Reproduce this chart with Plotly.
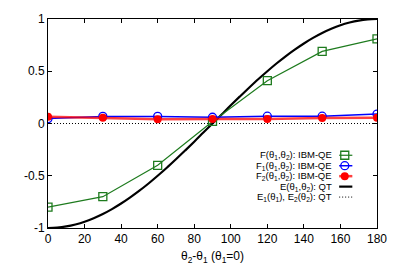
import plotly.graph_objects as go

# ---- data ----
angles = [0, 30, 60, 90, 120, 150, 180]
F_ibm = [-0.80, -0.70, -0.40, 0.02, 0.41, 0.69, 0.81]
F1_ibm = [0.047, 0.068, 0.068, 0.060, 0.070, 0.070, 0.090]
F2_ibm = [0.065, 0.056, 0.040, 0.044, 0.044, 0.053, 0.056]

qt_angles = [0, 5, 10, 15, 20, 25, 30, 35, 40, 45, 50, 55, 60, 65, 70, 75, 80, 85, 90,
             95, 100, 105, 110, 115, 120, 125, 130, 135, 140, 145, 150, 155, 160, 165,
             170, 175, 180]
E_qt = [-1.0, -0.996, -0.985, -0.966, -0.940, -0.906, -0.866, -0.819, -0.766, -0.707,
        -0.643, -0.574, -0.5, -0.423, -0.342, -0.259, -0.174, -0.087, 0.0,
        0.087, 0.174, 0.259, 0.342, 0.423, 0.5, 0.574, 0.643, 0.707, 0.766, 0.819,
        0.866, 0.906, 0.940, 0.966, 0.985, 0.996, 1.0]
E12_angles = [0, 180]
E12_qt = [0.0, 0.0]

legend_labels = [
    "F(θ<sub>1</sub>,θ<sub>2</sub>): IBM-QE",
    "F<sub>1</sub>(θ<sub>1</sub>,θ<sub>2</sub>): IBM-QE",
    "F<sub>2</sub>(θ<sub>1</sub>,θ<sub>2</sub>): IBM-QE",
    "E(θ<sub>1</sub>,θ<sub>2</sub>): QT",
    "E<sub>1</sub>(θ<sub>1</sub>), E<sub>2</sub>(θ<sub>2</sub>): QT",
]
x_ticks = [0, 20, 40, 60, 80, 100, 120, 140, 160, 180]
y_ticks = [-1, -0.5, 0, 0.5, 1]
y_ticktext = ["-1", "-0.5", "0", "0.5", "1"]

GREEN = "#1e7b1e"
BLUE = "#0000ff"
RED = "#ff0000"
DOTS = "1px,2px"

fig = go.Figure()

fig.add_trace(go.Scatter(x=E12_angles, y=E12_qt, mode="lines",
                         line=dict(color="black", width=1, dash=DOTS), showlegend=False))
fig.add_trace(go.Scatter(x=qt_angles, y=E_qt, mode="lines",
                         line=dict(color="black", width=2.2, shape="spline"), showlegend=False))
fig.add_trace(go.Scatter(x=angles, y=F_ibm, mode="lines+markers",
                         line=dict(color=GREEN, width=1.2),
                         marker=dict(symbol="square-open", size=8, color=GREEN, line=dict(width=1.3)),
                         showlegend=False))
fig.add_trace(go.Scatter(x=angles, y=F1_ibm, mode="lines+markers",
                         line=dict(color=BLUE, width=1.5),
                         marker=dict(symbol="circle-open", size=8, color=BLUE, line=dict(width=1.3)),
                         showlegend=False))
fig.add_trace(go.Scatter(x=angles, y=F2_ibm, mode="lines+markers",
                         line=dict(color="rgba(255,0,0,0.75)", width=2.5),
                         marker=dict(symbol="circle", size=8, color=RED),
                         showlegend=False))

# ---- legend (gnuplot style: text right-aligned, sample on right) ----
row_y = [0.348, 0.298, 0.248, 0.198, 0.148]
sx0, sx1, sxc = 0.885, 0.925, 0.902
styles = [
    dict(mode="lines+markers", line=dict(color=GREEN, width=1.2),
         marker=dict(symbol="square-open", size=8, color=GREEN, line=dict(width=1.3))),
    dict(mode="lines+markers", line=dict(color=BLUE, width=1.5),
         marker=dict(symbol="circle-open", size=8, color=BLUE, line=dict(width=1.3))),
    dict(mode="lines+markers", line=dict(color="rgba(255,0,0,0.75)", width=2.5),
         marker=dict(symbol="circle", size=8, color=RED)),
    dict(mode="lines", line=dict(color="black", width=2.2)),
    dict(mode="lines", line=dict(color="black", width=1, dash=DOTS)),
]
for lab, yy, st in zip(legend_labels, row_y, styles):
    fig.add_trace(go.Scatter(x=[sx0, sx1], y=[yy, yy], mode="lines", line=st["line"],
                             xaxis="x2", yaxis="y2", showlegend=False, hoverinfo="skip"))
    if st["mode"] == "lines+markers":
        fig.add_trace(go.Scatter(x=[sxc], y=[yy], mode="markers", marker=st["marker"],
                                 xaxis="x2", yaxis="y2", showlegend=False, hoverinfo="skip"))
    fig.add_annotation(x=0.870, y=yy, xref="x2", yref="y2", text=lab, showarrow=False,
                       xanchor="right", yanchor="middle",
                       font=dict(size=9.5, color="black", family="Liberation Sans, Arial"))

fig.update_layout(
    width=399, height=279,
    margin=dict(l=48, r=22, t=14, b=51),
    paper_bgcolor="white", plot_bgcolor="white",
    font=dict(family="Liberation Sans, Arial", size=12, color="black"),
    showlegend=False,
    xaxis=dict(range=[0, 180], tickvals=x_ticks, ticks="inside", ticklen=4,
               tickcolor="black", linecolor="black", linewidth=1, mirror="ticks",
               showgrid=False, zeroline=False, showline=True,
               title=dict(text="θ<sub>2</sub>-θ<sub>1</sub> (θ<sub>1</sub>=0)",
                          font=dict(size=12), standoff=6)),
    yaxis=dict(range=[-1, 1], tickvals=y_ticks, ticktext=y_ticktext, ticks="inside",
               ticklen=4, tickcolor="black", linecolor="black", linewidth=1,
               mirror="ticks", showgrid=False, zeroline=False, showline=True),
    xaxis2=dict(overlaying="x", range=[0, 1], visible=False),
    yaxis2=dict(overlaying="y", range=[0, 1], visible=False),
)

fig.write_html("out.html", config={"displayModeBar": False},
               post_script="document.body.style.margin='0';document.body.style.overflow='hidden';")
